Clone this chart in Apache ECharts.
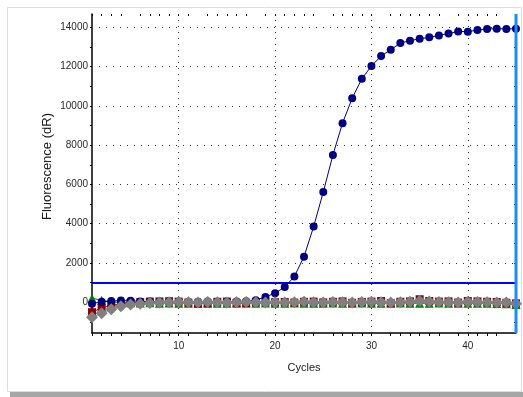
<!DOCTYPE html>
<html>
<head>
<meta charset="utf-8">
<script src="https://cdn.jsdelivr.net/npm/echarts@6/dist/echarts.min.js"></script>
<style>
  html, body { margin: 0; padding: 0; background: #ffffff; }
  #chart { width: 523px; height: 397px; }
</style>
</head>
<body>
<div id="chart"></div>
<script>
// Amplification plot: fluorescence (dR) per cycle for four wells
const cycles = [1, 2, 3, 4, 5, 6, 7, 8, 9, 10, 11, 12, 13, 14, 15, 16, 17, 18, 19, 20,
  21, 22, 23, 24, 25, 26, 27, 28, 29, 30, 31, 32, 33, 34, 35, 36, 37, 38, 39, 40,
  41, 42, 43, 44, 45];

const blueWell = [-80, 20, 60, 80, 70, 40, 30, 20, 30, 20, 10, 20, 30, 20, 30, 40, 50, 100, 270, 460,
  770, 1310, 2320, 3850, 5610, 7500, 9120, 10390, 11380, 12030, 12540, 12860, 13200, 13320, 13420, 13490, 13590, 13690, 13790, 13780,
  13860, 13920, 13930, 13920, 13930];

const greenWell = [200, 100, 20, -20, -30, -40, -30, -50, -40, -60, -50, -60, -40, -50, -60, -50, -40, -50, -40, -50,
  -60, -40, -50, -60, -50, -40, -60, -50, -40, -50, -60, -50, -40, -50, -60, -50, -40, -60, -50, -60,
  -50, -60, -70, -80, -120];

const redWell = [-510, -290, -170, -80, -30, 0, 30, 40, 50, 30, -20, -80, -70, 20, 30, -40, -60, 10, 20, 0,
  10, -20, 20, 30, -10, 20, 40, -30, 10, 30, 60, -50, 20, 40, 150, 60, 30, 40, -20, 60,
  40, 20, 10, -30, -60];

const grayWell = [-770, -560, -360, -210, -120, -80, -40, -20, 0, 10, 0, -20, 10, 0, -10, 0, 10, 0, -10, 0,
  -10, 0, 20, 0, -20, 10, 0, -20, 10, 20, 0, -10, 0, 20, 60, 30, 10, 0, -10, 20,
  10, 0, -20, -10, -80];

const threshold = 1000;
const cursorCycle = 45;

// axis marks
const yLabelValues = [0, 2000, 4000, 6000, 8000, 10000, 12000, 14000];
const yTickValues = [-1000, 0, 1000, 2000, 3000, 4000, 5000, 6000, 7000, 8000, 9000, 10000, 11000, 12000, 13000, 14000];
const yGridValues = [2000, 4000, 6000, 8000, 10000, 12000, 14000];
const xLabelValues = [10, 20, 30, 40];
const xTickValues = [1, 2, 3, 4, 6, 7, 8, 9, 10, 11, 13, 14, 15, 16, 17, 19, 20, 21, 22, 23,
  24, 26, 27, 28, 29, 30, 32, 33, 34, 35, 36, 37, 39, 40, 41, 42, 43];
const xGridValues = [10, 20, 30, 40];

const pairs = (vals) => cycles.map((c, i) => [c, vals[i]]);

const FONT = 'Liberation Sans';
const X_MIN = 1, X_MAX = 45, Y_MIN = -1570, Y_MAX = 14680;
const plain = (v) => String(v);

const baseX = {
  type: 'value', min: X_MIN, max: X_MAX,
  splitLine: { show: false }
};
const baseY = {
  type: 'value', min: Y_MIN, max: Y_MAX,
  splitLine: { show: false }
};

const chart = echarts.init(document.getElementById('chart'), null, { renderer: 'canvas' });

chart.setOption({
  animation: false,
  backgroundColor: '#ffffff',
  grid: { left: 92, right: 7, top: 14, bottom: 64 },
  graphic: [
    { type: 'rect', silent: true, z: -10,
      shape: { x: 7.5, y: 7.5, width: 514, height: 384 },
      style: { fill: 'none', stroke: '#dedede', lineWidth: 1 } },
    { type: 'rect', silent: true, z: -10,
      shape: { x: 10, y: 392, width: 513, height: 5 },
      style: { fill: '#a6a6a6' } }
  ],
  xAxis: [
    Object.assign({}, baseX, {
      name: 'Cycles',
      nameLocation: 'middle',
      nameGap: 29,
      nameMoveOverlap: false,
      nameTextStyle: { fontFamily: FONT, fontSize: 11, color: '#1a1a1a' },
      axisLine: { show: true, onZero: false, lineStyle: { color: '#000000', width: 1.5 } },
      axisTick: { show: true, inside: false, length: 3, customValues: xTickValues,
        lineStyle: { color: '#000000', width: 1 } },
      axisLabel: { show: true, margin: 8, customValues: xLabelValues, formatter: plain,
        fontFamily: FONT, fontSize: 10, color: '#2a2a2a' }
    }),
    Object.assign({}, baseX, {
      axisLine: { show: false, onZero: false },
      axisTick: { show: true, inside: true, length: 2, customValues: xTickValues,
        lineStyle: { color: '#000000', width: 1 } },
      axisLabel: { show: false }
    })
  ],
  yAxis: [
    Object.assign({}, baseY, {
      name: 'Fluorescence (dR)',
      nameLocation: 'middle',
      nameGap: 38,
      nameMoveOverlap: false,
      nameTextStyle: { fontFamily: FONT, fontSize: 13, color: '#1a1a1a', padding: [0, 0, 0, 14] },
      axisLine: { show: true, onZero: false, lineStyle: { color: '#000000', width: 1.5 } },
      axisTick: { show: true, inside: false, length: 2, customValues: yTickValues,
        lineStyle: { color: '#000000', width: 1 } },
      axisLabel: { show: true, margin: 4, customValues: yLabelValues, formatter: plain,
        fontFamily: FONT, fontSize: 10, color: '#2a2a2a' }
    }),
    Object.assign({}, baseY, {
      axisLine: { show: false, onZero: false },
      axisTick: { show: true, inside: true, length: 2, customValues: yTickValues,
        lineStyle: { color: '#000000', width: 1 } },
      axisLabel: { show: false }
    })
  ],
  series: [
    {
      // dotted grid and threshold
      type: 'line', data: [], silent: true,
      markLine: {
        silent: true, symbol: 'none', animation: false,
        label: { show: false },
        data: [
          ...yGridValues.map(v => ({ yAxis: v, lineStyle: { type: [1, 6], color: '#303030', width: 1 } })),
          ...xGridValues.map(v => ({ xAxis: v, lineStyle: { type: [1, 5], color: '#303030', width: 1 } })),
          { yAxis: threshold, lineStyle: { type: 'solid', color: '#0000ff', width: 2 } }
        ]
      },
      z: 1
    },
    {
      name: 'green', type: 'line', data: pairs(greenWell),
      symbol: 'triangle', symbolSize: 9,
      lineStyle: { color: '#008000', width: 1 },
      itemStyle: { color: '#008000' }, z: 3
    },
    {
      name: 'red', type: 'line', data: pairs(redWell),
      symbol: 'rect', symbolSize: 8,
      lineStyle: { color: '#8b0000', width: 1 },
      itemStyle: { color: '#8b0000' }, z: 4
    },
    {
      name: 'blue', type: 'line', data: pairs(blueWell),
      symbol: 'circle', symbolSize: 8,
      lineStyle: { color: '#000080', width: 1 },
      itemStyle: { color: '#000080' }, z: 5
    },
    {
      name: 'gray', type: 'line', data: pairs(grayWell),
      symbol: 'diamond', symbolSize: 12,
      lineStyle: { color: '#808080', width: 1 },
      itemStyle: { color: '#808080' }, z: 6
    },
    {
      // cycle cursor
      type: 'line', silent: true, clip: false, symbol: 'none',
      data: [[cursorCycle, Y_MIN], [cursorCycle, Y_MAX]],
      lineStyle: { color: '#1e8cf5', width: 3 },
      z: 10
    }
  ]
});
</script>
</body>
</html>
